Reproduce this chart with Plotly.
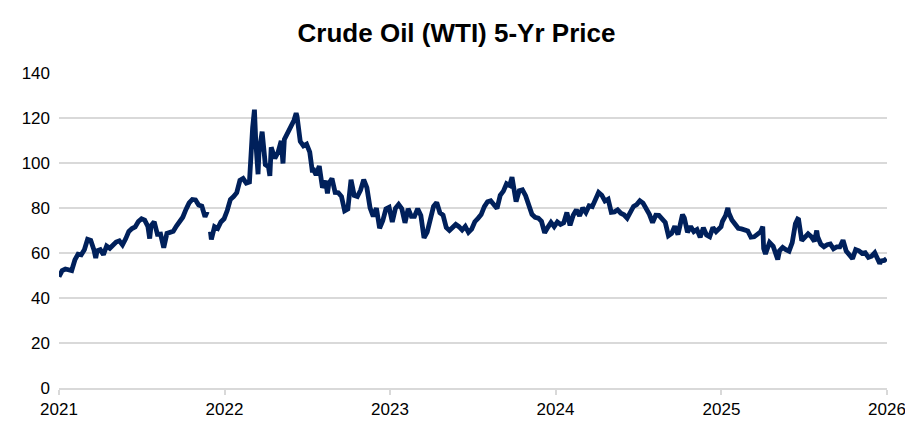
import plotly.graph_objects as go

# Weekly-ish WTI front-month closes
dates_2021 = ["2021-01-01","2021-01-08","2021-01-15","2021-01-22","2021-01-29","2021-02-05","2021-02-12","2021-02-19","2021-02-26",
              "2021-03-05","2021-03-12","2021-03-19","2021-03-23","2021-03-26","2021-04-02","2021-04-09","2021-04-16","2021-04-23","2021-04-30",
              "2021-05-07","2021-05-14","2021-05-21","2021-05-28","2021-06-04","2021-06-11","2021-06-18","2021-06-25","2021-07-02",
              "2021-07-09","2021-07-16","2021-07-20","2021-07-23","2021-07-30","2021-08-06","2021-08-13","2021-08-20","2021-08-27",
              "2021-09-03","2021-09-10","2021-09-17","2021-09-24","2021-10-01","2021-10-08","2021-10-15","2021-10-22","2021-10-29",
              "2021-11-05","2021-11-12","2021-11-19","2021-11-24","2021-11-30","2021-12-01","2021-12-03","2021-12-10","2021-12-17","2021-12-24","2021-12-31"]
prices_2021 = [49.5,52.2,52.9,52.3,52.2,56.9,59.5,59.2,61.5,
               66.1,65.6,61.4,57.8,61.0,61.5,59.3,63.1,62.1,63.6,
               64.9,65.4,63.6,66.3,69.6,70.9,71.6,74.0,75.2,
               74.6,71.8,66.4,72.1,73.9,68.3,68.4,62.3,68.7,
               69.3,69.7,72.0,74.0,75.9,79.4,82.3,83.8,83.6,
               81.3,80.8,76.1,78.4,None,69.5,66.0,71.7,70.9,73.8,75.2]

dates_2022 = ["2022-01-07","2022-01-14","2022-01-21","2022-01-28","2022-02-04","2022-02-11","2022-02-18","2022-02-25","2022-03-04",
              "2022-03-08","2022-03-11","2022-03-16","2022-03-18","2022-03-25","2022-04-01","2022-04-08","2022-04-11","2022-04-14",
              "2022-04-22","2022-04-29","2022-05-06","2022-05-10","2022-05-13","2022-05-20","2022-05-27","2022-06-03","2022-06-08",
              "2022-06-10","2022-06-17","2022-06-24","2022-07-01","2022-07-08","2022-07-14","2022-07-15","2022-07-22","2022-07-29",
              "2022-08-05","2022-08-12","2022-08-16","2022-08-19","2022-08-26","2022-09-02","2022-09-09","2022-09-16","2022-09-23",
              "2022-09-30","2022-10-07","2022-10-14","2022-10-21","2022-10-28","2022-11-04","2022-11-11","2022-11-18","2022-11-25",
              "2022-12-02","2022-12-09","2022-12-16","2022-12-23","2022-12-30"]
prices_2022 = [78.9,83.8,85.1,86.8,92.3,93.1,91.1,91.6,115.7,
               123.7,109.3,95.0,104.7,113.9,99.3,98.3,94.3,107.0,
               102.1,104.7,109.8,99.8,110.5,113.2,115.1,118.9,122.1,
               120.7,109.6,107.6,108.4,104.8,95.8,97.6,94.7,98.6,
               89.0,92.1,86.5,90.8,93.1,86.9,86.8,85.1,78.7,
               79.5,92.6,85.6,85.1,87.9,92.6,89.0,80.1,76.3,
               80.0,71.0,74.3,79.6,80.3]

dates_2023 = ["2023-01-06","2023-01-13","2023-01-20","2023-01-27","2023-02-03","2023-02-10","2023-02-17","2023-02-24","2023-03-03",
              "2023-03-10","2023-03-17","2023-03-24","2023-03-31","2023-04-07","2023-04-14","2023-04-21","2023-04-28","2023-05-05",
              "2023-05-12","2023-05-19","2023-05-26","2023-06-02","2023-06-09","2023-06-16","2023-06-23","2023-06-30","2023-07-07",
              "2023-07-14","2023-07-21","2023-07-28","2023-08-04","2023-08-11","2023-08-18","2023-08-25","2023-09-01","2023-09-08",
              "2023-09-15","2023-09-22","2023-09-27","2023-09-29","2023-10-06","2023-10-13","2023-10-20","2023-10-27","2023-11-03",
              "2023-11-10","2023-11-17","2023-11-24","2023-12-01","2023-12-08","2023-12-15","2023-12-22","2023-12-29"]
prices_2023 = [73.8,79.9,81.6,79.7,73.4,79.7,76.3,76.3,79.7,
               76.7,66.7,69.3,75.7,80.7,82.5,77.9,76.8,71.3,
               70.0,71.7,72.7,71.7,70.2,71.8,69.2,70.6,73.9,
               75.4,77.1,80.6,82.8,83.2,81.3,79.8,85.6,87.5,
               90.8,90.0,93.7,90.8,82.8,87.7,88.1,85.5,80.5,
               77.2,75.9,75.5,74.1,69.0,71.4,73.6,71.7]

dates_2024 = ["2024-01-05","2024-01-12","2024-01-19","2024-01-26","2024-02-02","2024-02-09","2024-02-16","2024-02-23","2024-03-01",
              "2024-03-08","2024-03-15","2024-03-22","2024-03-28","2024-04-05","2024-04-12","2024-04-19","2024-04-26","2024-05-03",
              "2024-05-10","2024-05-17","2024-05-24","2024-05-31","2024-06-07","2024-06-14","2024-06-21","2024-06-28","2024-07-05",
              "2024-07-12","2024-07-19","2024-07-26","2024-08-02","2024-08-09","2024-08-16","2024-08-23","2024-08-30","2024-09-06",
              "2024-09-13","2024-09-20","2024-09-27","2024-10-04","2024-10-07","2024-10-11","2024-10-18","2024-10-25","2024-11-01",
              "2024-11-08","2024-11-15","2024-11-22","2024-11-29","2024-12-06","2024-12-13","2024-12-20","2024-12-27","2024-12-31"]
prices_2024 = [73.8,72.7,73.4,78.0,72.3,76.8,79.2,76.5,80.0,
               78.0,81.0,80.6,83.2,86.9,85.7,83.1,83.9,78.1,
               78.3,79.2,77.7,77.0,75.5,78.5,80.7,81.5,83.2,
               82.2,80.1,77.2,73.5,76.8,76.7,74.8,73.6,67.7,
               68.7,71.9,68.2,74.4,77.1,75.6,69.2,71.8,69.5,
               70.4,67.0,71.2,68.0,67.2,71.3,69.5,70.6,71.7]

dates_2025 = ["2025-01-03","2025-01-10","2025-01-15","2025-01-17","2025-01-24","2025-01-31","2025-02-07","2025-02-14","2025-02-21",
              "2025-02-28","2025-03-07","2025-03-14","2025-03-21","2025-03-28","2025-04-02","2025-04-04","2025-04-08","2025-04-11",
              "2025-04-17","2025-04-25","2025-05-02","2025-05-05","2025-05-09","2025-05-16","2025-05-23","2025-05-30","2025-06-06",
              "2025-06-13","2025-06-18","2025-06-20","2025-06-27","2025-07-03","2025-07-11","2025-07-18","2025-07-25","2025-07-30",
              "2025-08-01","2025-08-08","2025-08-15","2025-08-22","2025-08-29","2025-09-05","2025-09-12","2025-09-19","2025-09-26",
              "2025-10-03","2025-10-10","2025-10-17","2025-10-24","2025-10-31","2025-11-07","2025-11-14","2025-11-21","2025-11-28",
              "2025-12-05","2025-12-12","2025-12-16","2025-12-19","2025-12-26","2025-12-31"]
prices_2025 = [74.0,76.6,80.0,77.9,74.7,72.5,71.0,70.7,70.4,
               69.8,67.0,67.2,68.3,69.4,71.7,62.0,59.6,61.5,
               64.7,63.0,58.3,57.1,61.0,62.5,61.5,60.8,64.6,
               73.0,75.1,74.9,65.5,67.0,68.5,67.3,65.2,70.0,
               67.3,63.9,62.8,63.7,64.0,61.9,62.7,62.7,65.7,
               60.9,58.9,57.5,61.5,61.0,59.8,60.1,58.1,58.6,
               60.1,57.4,55.3,56.5,56.7,57.5]

year_ticks = ["2021-01-01","2022-01-01","2023-01-01","2024-01-01","2025-01-01","2026-01-01"]
year_labels = ["2021","2022","2023","2024","2025","2026"]
y_ticks = [0, 20, 40, 60, 80, 100, 120, 140]

dates = dates_2021 + dates_2022 + dates_2023 + dates_2024 + dates_2025
prices = prices_2021 + prices_2022 + prices_2023 + prices_2024 + prices_2025

FONT = "Liberation Sans, Arial, sans-serif"

fig = go.Figure()
fig.add_trace(go.Scatter(
    x=dates, y=prices, mode="lines",
    line=dict(color="#00205B", width=4.8),
    connectgaps=False, showlegend=False,
))

# page body has an 8px margin, so the figure is sized/offset to compensate
W, H = 897, 418
fig.update_layout(
    width=W, height=H,
    paper_bgcolor="white", plot_bgcolor="white",
    margin=dict(l=51, r=18, t=65, b=38, autoexpand=False),
    title=dict(text="<b>Crude Oil (WTI) 5-Yr Price</b>", x=0.5, xanchor="center",
               y=1 - 25 / H, yanchor="middle",
               font=dict(family=FONT, size=26, color="#000000")),
    font=dict(family=FONT, size=17, color="#000000"),
)

fig.update_xaxes(
    type="date", range=["2021-01-01", "2026-01-01"],
    tickmode="array", tickvals=year_ticks, ticktext=year_labels,
    showgrid=False, showline=True, linecolor="#D9D9D9", linewidth=1.5,
    ticks="outside", ticklen=5, tickcolor="#D9D9D9", tickwidth=1.5,
    tickfont=dict(family=FONT, size=17, color="#000000"),
    zeroline=False, automargin=False, ticklabeloverflow="allow",
)
fig.update_yaxes(
    range=[0, 140], tickmode="array", tickvals=y_ticks,
    showgrid=True, gridcolor="#D9D9D9", gridwidth=1.5,
    showline=False, zeroline=False, ticks="",
    ticklabelstandoff=8, automargin=False,
    tickfont=dict(family=FONT, size=17, color="#000000"),
)

fig.write_html("out.html")
